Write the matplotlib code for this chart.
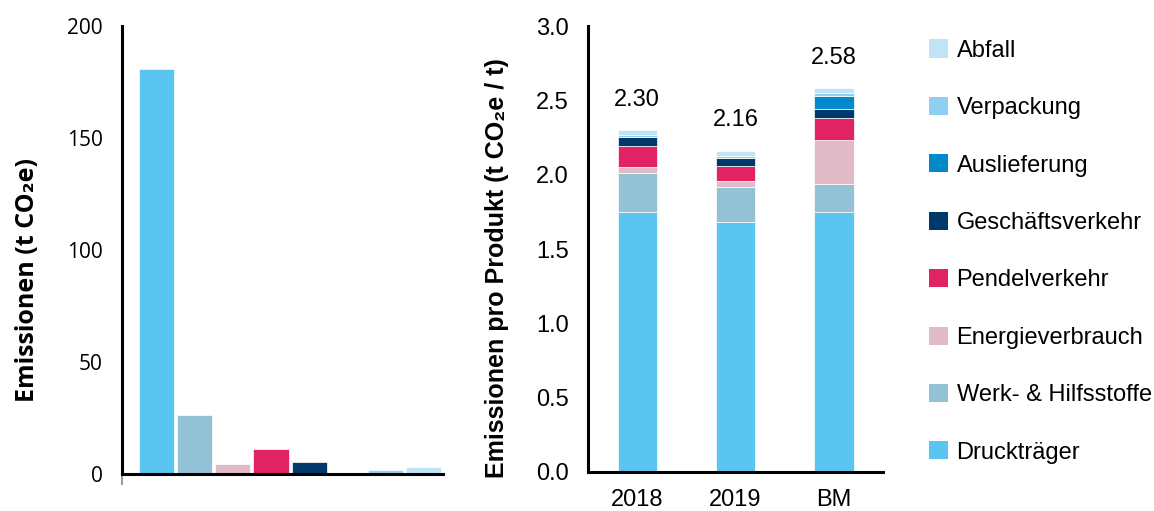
import matplotlib
matplotlib.use("Agg")
import matplotlib.pyplot as plt
import numpy as np
from matplotlib.patches import Patch

categories = ["Druckträger", "Werk- & Hilfsstoffe", "Energieverbrauch", "Pendelverkehr",
              "Geschäftsverkehr", "Auslieferung", "Verpackung", "Abfall"]
colors = ["#5BC5F2", "#93C2D6", "#E2BBC8", "#E12364", "#00386C", "#0089CB", "#8FD0F2", "#BEE4F6"]

# left chart: total emissions per category (t CO2e)
left_values = [181, 26.4, 4.5, 11.2, 5.4, 0, 2.0, 3.1]

# right chart: emissions per product (t CO2e / t)
years = ["2018", "2019", "BM"]
druck = [1.75, 1.68, 1.75]
werk = [0.26, 0.24, 0.19]
energie = [0.04, 0.04, 0.29]
pendel = [0.145, 0.10, 0.15]
geschaeft = [0.056, 0.05, 0.065]
auslieferung = [0.0, 0.0, 0.085]
verpackung = [0.018, 0.015, 0.02]
abfall = [0.031, 0.035, 0.03]
totals = [2.30, 2.16, 2.58]
total_labels = ["2.30", "2.16", "2.58"]

stack = [druck, werk, energie, pendel, geschaeft, auslieferung, verpackung, abfall]

W, H = 1154, 511
fig = plt.figure(figsize=(W / 100, H / 100), dpi=100)

arial = ["Liberation Sans", "DejaVu Sans"]
opens = ["Open Sans", "DejaVu Sans"]

# ---------- left axes ----------
axL = fig.add_axes([122 / W, 1 - 474 / H, 321 / W, 448 / H])
xL = np.arange(len(categories))
axL.bar(xL, left_values, width=0.92, color=colors, edgecolor="white", linewidth=0.5)
axL.set_xlim(-0.9, 7.5)
axL.set_ylim(0, 200)
axL.set_yticks([0, 50, 100, 150, 200])
axL.set_yticklabels(["0", "50", "100", "150", "200"], family=opens, fontsize=15)
axL.tick_params(axis="y", length=0, pad=14)
axL.set_xticks([-0.9])
axL.set_xticklabels([""])
axL.tick_params(axis="x", length=8, width=1.2, color="#888888")
for s in ["top", "right"]:
    axL.spines[s].set_visible(False)
for s in ["left", "bottom"]:
    axL.spines[s].set_linewidth(2.2)
axL.set_ylabel("Emissionen (t CO₂e)", family=opens, fontsize=18, fontweight="bold")
axL.yaxis.set_label_coords(-0.255, (474 - 280) / 448)

# ---------- right axes ----------
axR = fig.add_axes([588 / W, 1 - 472 / H, 295 / W, 446 / H])
xR = np.arange(len(years))
bottom = np.zeros(len(years))
for vals, c, lab in zip(stack, colors, categories):
    axR.bar(xR, vals, width=0.4, bottom=bottom, color=c, edgecolor="white", linewidth=0.5, label=lab)
    bottom += np.array(vals)
for xi, t, tl in zip(xR, totals, total_labels):
    axR.annotate(tl, (xi, t), xytext=(0, 14), textcoords="offset points",
                 ha="center", va="bottom", family=arial, fontsize=17)
axR.set_xlim(-0.5, 2.5)
axR.set_ylim(0, 3.0)
axR.set_yticks(np.arange(0, 3.01, 0.5))
axR.set_yticklabels([f"{v:.1f}" for v in np.arange(0, 3.01, 0.5)], family=arial, fontsize=17)
axR.set_xticks(xR)
axR.set_xticklabels(years, family=arial, fontsize=17)
axR.tick_params(axis="y", length=0, pad=14)
axR.tick_params(axis="x", length=0, pad=12)
for s in ["top", "right"]:
    axR.spines[s].set_visible(False)
for s in ["left", "bottom"]:
    axR.spines[s].set_linewidth(2.2)
axR.set_ylabel("Emissionen pro Produkt (t CO₂e / t)", family=arial, fontsize=18,
               fontweight="bold")
axR.yaxis.set_label_coords((509 - 588) / 295, (472 - 268) / 446)

handles = [Patch(facecolor=c, edgecolor="none") for c in colors][::-1]
labels = categories[::-1]
fig.legend(handles, labels, loc="upper left", bbox_to_anchor=(920 / W, 1 - 30 / H),
           frameon=False, prop={"family": arial, "size": 17}, handlelength=0.8,
           handleheight=0.8, handletextpad=0.35, labelspacing=1.49, borderaxespad=0)

fig.savefig("out.png", dpi=100)
